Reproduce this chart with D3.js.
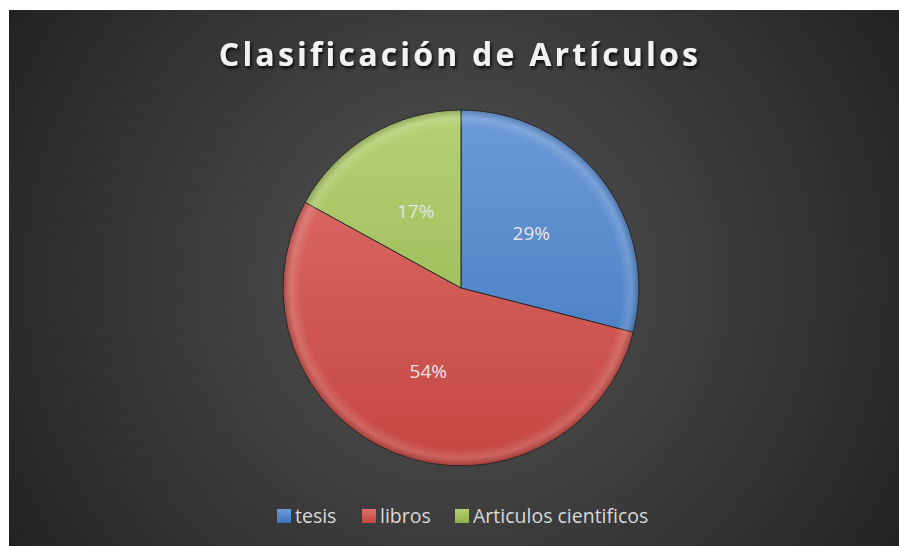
<!DOCTYPE html>
<html><head><meta charset="utf-8">
<script src="https://cdn.jsdelivr.net/npm/d3@7"></script>
<style>html,body{margin:0;padding:0;background:#fff;}svg{display:block;}</style>
</head><body>
<script>
const categories = ["tesis", "libros", "Articulos cientificos"];
const values = [29, 54, 17];
const labels = ["29%", "54%", "17%"];
const lightColors = ["#6b9ad8", "#e0706b", "#b6d072"];
const darkColors = ["#3e74bd", "#c44641", "#8fb04c"];
const titleText = "Clasificación de Artículos";

const W = 899, H = 546;
const svg = d3.select("body").append("svg").attr("width", W).attr("height", H);
const defs = svg.append("defs");

const bg = defs.append("radialGradient").attr("id", "bg").attr("gradientUnits", "userSpaceOnUse")
  .attr("cx", 455).attr("cy", 280).attr("r", 520);
bg.append("stop").attr("offset", "0").attr("stop-color", "#555555");
bg.append("stop").attr("offset", "1").attr("stop-color", "#232323");

svg.append("rect").attr("x", 9).attr("y", 10).attr("width", W - 9).attr("height", H - 10).attr("fill", "url(#bg)");

const cx = 461, cy = 288, R = 178;
lightColors.forEach((c, i) => {
  const g = defs.append("linearGradient").attr("id", "g" + i).attr("gradientUnits", "userSpaceOnUse")
    .attr("x1", 0).attr("y1", -R).attr("x2", 0).attr("y2", R);
  g.append("stop").attr("offset", "0").attr("stop-color", lightColors[i]);
  g.append("stop").attr("offset", "1").attr("stop-color", darkColors[i]);
  const l = defs.append("linearGradient").attr("id", "l" + i)
    .attr("x1", 0).attr("y1", 0).attr("x2", 0).attr("y2", 1);
  l.append("stop").attr("offset", "0").attr("stop-color", lightColors[i]);
  l.append("stop").attr("offset", "1").attr("stop-color", darkColors[i]);
});
const shade = defs.append("radialGradient").attr("id", "shade").attr("gradientUnits", "userSpaceOnUse")
  .attr("cx", 0).attr("cy", 0).attr("r", R);
shade.append("stop").attr("offset", "0.9").attr("stop-color", "#fff").attr("stop-opacity", 0);
shade.append("stop").attr("offset", "0.955").attr("stop-color", "#fff").attr("stop-opacity", 0.15);
shade.append("stop").attr("offset", "1").attr("stop-color", "#000").attr("stop-opacity", 0.2);

const flt = defs.append("filter").attr("id", "ts").attr("x", "-10%").attr("y", "-30%").attr("width", "120%").attr("height", "160%");
flt.append("feDropShadow").attr("dx", 1.5).attr("dy", 2.5).attr("stdDeviation", 1.5).attr("flood-color", "#000").attr("flood-opacity", 0.8);

const pie = d3.pie().sort(null).value(d => d)(values);
const arc = d3.arc().innerRadius(0).outerRadius(R);
const labelArc = d3.arc().innerRadius(89 * 2).outerRadius(0);
const g = svg.append("g").attr("transform", `translate(${cx},${cy})`);
g.selectAll("path.s").data(pie).join("path").attr("class", "s")
  .attr("d", arc).attr("fill", (d, i) => `url(#g${i})`)
  .attr("stroke", "#2a2a2a").attr("stroke-width", 1);
g.selectAll("path.h").data(pie).join("path").attr("class", "h")
  .attr("d", arc).attr("fill", "url(#shade)");
g.selectAll("text").data(pie).join("text")
  .attr("x", d => labelArc.centroid(d)[0]).attr("y", d => labelArc.centroid(d)[1])
  .attr("text-anchor", "middle").attr("dominant-baseline", "central")
  .attr("font-family", "Open Sans, sans-serif").attr("font-size", 19)
  .attr("fill", "#e6e6e6").text((d, i) => labels[i]);

svg.append("text").attr("x", 460).attr("y", 66).attr("text-anchor", "middle")
  .attr("font-family", "Open Sans, sans-serif").attr("font-weight", "bold").attr("font-size", 32)
  .attr("letter-spacing", 3.2).attr("fill", "#f2f2f2").attr("filter", "url(#ts)").text(titleText);

const legendX = [277, 362, 455];
const leg = svg.append("g");
categories.forEach((c, i) => {
  leg.append("rect").attr("x", legendX[i]).attr("y", 509).attr("width", 14).attr("height", 14)
    .attr("fill", `url(#l${i})`);
  leg.append("text").attr("x", legendX[i] + 18).attr("y", 523)
    .attr("font-family", "Open Sans, sans-serif").attr("font-size", 19.5)
    .attr("fill", "#d9d9d9").text(c);
});
</script>
</body></html>
